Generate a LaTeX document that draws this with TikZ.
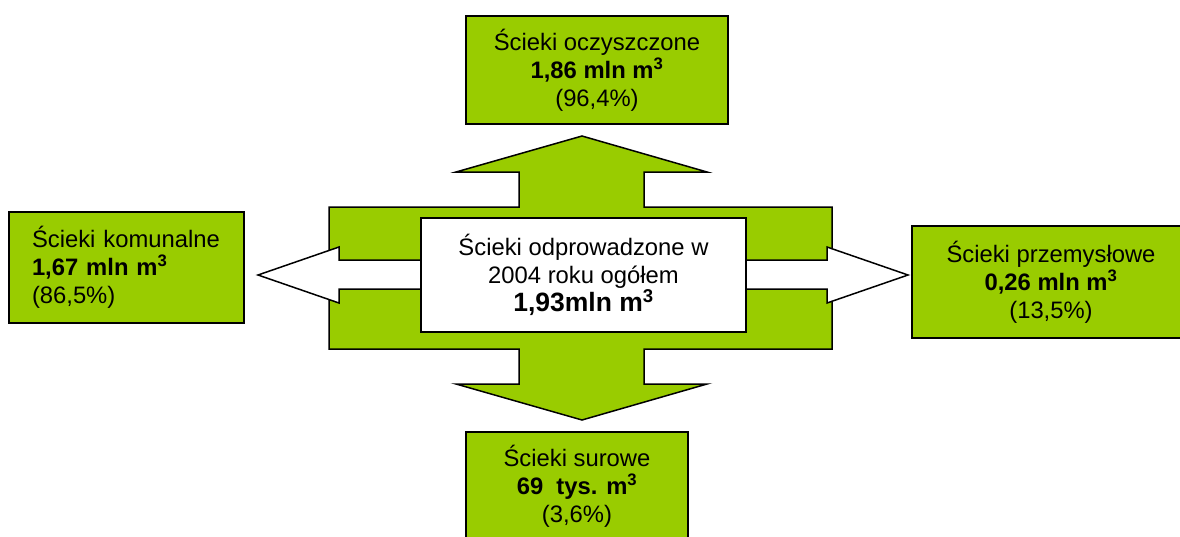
\documentclass[tikz,border=0pt]{standalone}
\usepackage{fontspec}
\setmainfont{Liberation Sans}
\definecolor{lime}{HTML}{99CC00}
\newcommand\diagfont{\fontsize{23.8}{28}\selectfont}
\newcommand\bigbold{\fontsize{26.5}{29}\selectfont\bfseries}
\begin{document}
\begin{tikzpicture}[x=1pt,y=-1pt,
  box/.style={draw=black, line width=2pt, fill=lime, inner sep=0pt, align=center, font=\diagfont},
  blockarrow/.style={draw=black, line width=1.5pt, line join=miter},
  centerbox/.style={draw=black, line width=1.5pt, fill=white, inner sep=0pt, align=center, font=\diagfont}]
\useasboundingbox (0,0) rectangle (1180,536);
\clip (0,0) rectangle (1180,536);
% green cross (vertical double arrow with horizontal band)
\path[blockarrow, fill=lime] (582,136) -- (707,172) -- (644,172) -- (644,207) -- (832,207) -- (832,349)
  -- (644,349) -- (644,384) -- (707,384) -- (582,420) -- (456,384) -- (519,384) -- (519,349)
  -- (329,349) -- (329,207) -- (519,207) -- (519,172) -- (456,172) -- cycle;
% white horizontal double arrow
\path[blockarrow, fill=white] (258,275) -- (339,247) -- (339,260) -- (827,260) -- (827,247) -- (908,275)
  -- (827,303) -- (827,289) -- (339,289) -- (339,303) -- cycle;
% center box
\node[centerbox, minimum width=325pt, minimum height=114pt] (center) at (583.5,275)
  {Ścieki odprowadzone w\\2004 roku ogółem\\{\bigbold 1,93mln m\textsuperscript{3}}};
% outer boxes
\node[box, minimum width=262pt, minimum height=108pt] (top) at (597,70)
  {Ścieki oczyszczone\\\textbf{1,86 mln m\textsuperscript{3}}\\(96,4\%)};
\node[box, align=left, text width=189pt, minimum width=235pt, minimum height=111pt] (left) at (126.5,267.5)
  {Ścieki komunalne\\\textbf{1,67 mln m\textsuperscript{3}}\\(86,5\%)};
\node[box, minimum width=278pt, minimum height=112pt] (right) at (1051,282)
  {Ścieki przemysłowe\\\textbf{0,26 mln m\textsuperscript{3}}\\(13,5\%)};
\node[box, minimum width=222pt, minimum height=108pt] (bottom) at (577,486)
  {Ścieki surowe\\\textbf{69\ \ tys. m\textsuperscript{3}}\\(3,6\%)};
\end{tikzpicture}
\end{document}
